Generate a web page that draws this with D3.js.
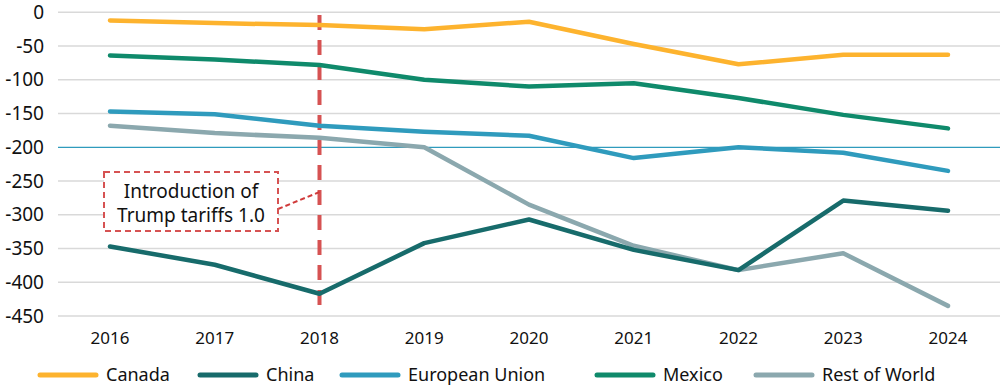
<!DOCTYPE html>
<html lang="en">
<head>
<meta charset="UTF-8">
<script src="https://d3js.org/d3.v7.min.js"></script>
<title>Trade balance by partner</title>
<style>
  body { margin: 0; background: #fff; }
  svg text { font-family: "Noto Sans", "Open Sans", sans-serif; fill: #111; }
</style>
</head>
<body>
<svg id="chart" width="1000" height="388"></svg>
<script>
const years = [2016, 2017, 2018, 2019, 2020, 2021, 2022, 2023, 2024];
const yTicks = [0, -50, -100, -150, -200, -250, -300, -350, -400, -450];

const seriesNames = ["Canada", "China", "European Union", "Mexico", "Rest of World"];
const canada = [-12, -16, -19, -25, -14, -47, -77, -63, -63];
const china = [-347, -374, -417, -342, -307, -352, -382, -279, -294];
const eu = [-147, -151, -168, -177, -183, -216, -200, -208, -235];
const mexico = [-64, -70, -78, -100, -110, -105, -127, -152, -172];
const restOfWorld = [-168, -179, -186, -200, -285, -346, -382, -357, -435];

const colors = ["#fdb32e", "#176b6b", "#2f9bbd", "#0f8a6b", "#8ba8ae"];
const values = [canada, china, eu, mexico, restOfWorld];
// draw order: rest of world underneath
const drawOrder = [4, 2, 3, 0, 1];

const svg = d3.select("#chart");

const x = d3.scaleLinear().domain([2016, 2024]).range([110, 948]);
const y = d3.scaleLinear().domain([0, -450]).range([12.3, 316]);

// gridlines
svg.append("g")
  .selectAll("line")
  .data(yTicks)
  .enter()
  .append("line")
  .attr("x1", 58).attr("x2", 1000)
  .attr("y1", d => y(d)).attr("y2", d => y(d))
  .attr("stroke", d => d === -200 ? "#2f9bbd" : "#d9d9d9")
  .attr("stroke-width", d => d === -200 ? 1.3 : 1.5);

// y axis labels
svg.append("g")
  .selectAll("text")
  .data(yTicks)
  .enter()
  .append("text")
  .attr("x", 44)
  .attr("y", d => y(d))
  .attr("dy", "0.35em")
  .attr("text-anchor", "end")
  .style("font-size", "19px")
  .text(d => d);

// x axis labels
svg.append("g")
  .selectAll("text")
  .data(years)
  .enter()
  .append("text")
  .attr("x", d => x(d))
  .attr("y", 344)
  .attr("text-anchor", "middle")
  .style("font-size", "17px")
  .text(d => d);

// 2018 marker
svg.append("line")
  .attr("x1", x(2018)).attr("x2", x(2018))
  .attr("y1", 15).attr("y2", 312)
  .attr("stroke", "#d65252")
  .attr("stroke-width", 4)
  .attr("stroke-dasharray", "15,10");

// lines
const line = d3.line()
  .x((d, i) => x(years[i]))
  .y(d => y(d));

svg.append("g")
  .selectAll("path")
  .data(drawOrder)
  .enter()
  .append("path")
  .attr("d", k => line(values[k]))
  .attr("fill", "none")
  .attr("stroke", k => colors[k])
  .attr("stroke-width", 4.5)
  .attr("stroke-linecap", "round")
  .attr("stroke-linejoin", "round");

// annotation
const note = svg.append("g");
note.append("line")
  .attr("x1", 278).attr("y1", 209)
  .attr("x2", x(2018)).attr("y2", 192)
  .attr("stroke", "#d03a3a")
  .attr("stroke-width", 2)
  .attr("stroke-dasharray", "5,3");
note.append("rect")
  .attr("x", 104).attr("y", 172)
  .attr("width", 174).attr("height", 59)
  .attr("fill", "#fff")
  .attr("stroke", "#d65252")
  .attr("stroke-width", 2)
  .attr("stroke-dasharray", "6,4");
note.append("text")
  .attr("x", 191).attr("y", 198)
  .attr("text-anchor", "middle")
  .style("font-size", "19px")
  .text("Introduction of");
note.append("text")
  .attr("x", 191).attr("y", 222)
  .attr("text-anchor", "middle")
  .style("font-size", "19px")
  .text("Trump tariffs 1.0");

// legend
const legendX = [40, 200, 342, 597, 756];
const legend = svg.append("g")
  .selectAll("g")
  .data(seriesNames)
  .enter()
  .append("g")
  .attr("transform", (d, i) => "translate(" + legendX[i] + ",375)");
legend.append("line")
  .attr("x1", 0).attr("x2", 56)
  .attr("stroke", (d, i) => colors[i])
  .attr("stroke-width", 5)
  .attr("stroke-linecap", "round");
legend.append("text")
  .attr("x", 66)
  .attr("dy", "0.35em")
  .style("font-size", "18px")
  .text(d => d);
</script>
</body>
</html>
